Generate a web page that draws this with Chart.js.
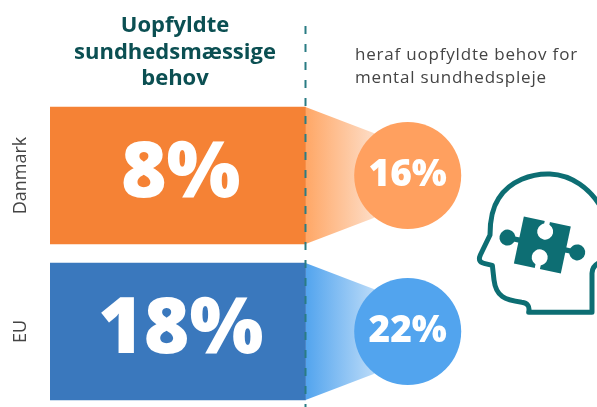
<!DOCTYPE html>
<html lang="da">
<head>
<meta charset="utf-8">
<title>Uopfyldte sundhedsmæssige behov</title>
<script src="https://cdn.jsdelivr.net/npm/chart.js@4"></script>
<style>
    html, body { margin: 0; padding: 0; background: #fff; overflow: hidden; height: 407px; }
    /* lidt højere end vinduet: nederste søjlerække skal have fuld afstand */
    #wrap { position: relative; width: 597px; height: 410px; }
</style>
</head>
<body>
<div id="wrap"><canvas id="behovChart"></canvas></div>
<script>
// Værdier
const categories = ['Danmark', 'EU'];
const unmetNeeds = [8, 18];      // uopfyldte sundhedsmæssige behov (%)
const mentalNeeds = [16, 22];    // heraf mental sundhedspleje (%)
// Søjlerne er lige lange i originalen, uanset værdien
const barLength = [1, 1];
const titleLines = ['Uopfyldte', 'sundhedsmæssige', 'behov'];
const noteLines = ['heraf uopfyldte behov for', 'mental sundhedspleje'];

const TEAL = '#0d6e73';
const FONT = '"Open Sans", "Noto Sans", sans-serif';
const barColors = ['#f58235', '#3a78bd'];
const circleColors = ['#ffa05f', '#52a4ee'];
const fadeStart = ['#ffa766', '#52a4ee'];
const fadeEnd = ['#fddcc5', '#b9daf8'];

// Tragten mellem søjle og cirkel
const funnelPlugin = {
    id: 'funnel',
    beforeDatasetsDraw(chart) {
        const ctx = chart.ctx;
        const bars = chart.getDatasetMeta(0).data;
        const circles = chart.getDatasetMeta(1).data;
        bars.forEach((bar, i) => {
            const c = circles[i];
            const h = bar.height / 2;
            const endX = c.x - 34;
            const grad = ctx.createLinearGradient(bar.x, 0, endX, 0);
            grad.addColorStop(0, fadeStart[i]);
            grad.addColorStop(1, fadeEnd[i]);
            ctx.save();
            ctx.fillStyle = grad;
            ctx.beginPath();
            ctx.moveTo(bar.x, bar.y - h);
            ctx.lineTo(endX, c.y - 42.5);
            ctx.lineTo(c.x, c.y);
            ctx.lineTo(endX, c.y + 42.5);
            ctx.lineTo(bar.x, bar.y + h);
            ctx.closePath();
            ctx.fill();
            ctx.restore();
        });
    }
};

// Hoved med puslespilsbrik
function drawHead(ctx) {
    ctx.save();
    ctx.translate(470, 160);
    ctx.scale(1 / 3, 1 / 3);
    ctx.strokeStyle = TEAL;
    ctx.fillStyle = TEAL;
    ctx.lineWidth = 15;
    ctx.lineJoin = 'round';
    ctx.lineCap = 'round';
    ctx.beginPath();
    ctx.moveTo(395, 305);
    ctx.quadraticCurveTo(366, 315, 366, 340);
    ctx.lineTo(366, 457);
    ctx.lineTo(176, 457);
    ctx.quadraticCurveTo(182, 430, 155, 427);
    ctx.bezierCurveTo(105, 420, 78, 410, 72, 360);
    ctx.lineTo(67, 316);
    ctx.lineTo(42, 310);
    ctx.quadraticCurveTo(22, 306, 31, 285);
    ctx.lineTo(60, 225);
    ctx.bezierCurveTo(60, 185, 66, 145, 86, 115);
    ctx.bezierCurveTo(120, 62, 185, 40, 240, 42);
    ctx.bezierCurveTo(305, 45, 360, 85, 395, 145);
    ctx.stroke();

    ctx.translate(217, 255);
    ctx.rotate(12 * Math.PI / 180);
    ctx.fillRect(-72, -72, 144, 144);
    [-1, 1].forEach(side => {
        ctx.fillRect(side > 0 ? 70 : -90, -8, 20, 16);
        ctx.beginPath();
        ctx.arc(side * 107, 0, 24, 0, Math.PI * 2);
        ctx.fill();
    });
    ctx.fillStyle = '#fff';
    [[-41, -76, 20], [38, 56, 20]].forEach(([cy, neckY, neckH]) => {
        ctx.beginPath();
        ctx.arc(0, cy, 24, 0, Math.PI * 2);
        ctx.fill();
        ctx.fillRect(-8, neckY, 16, neckH);
    });
    ctx.restore();
}

const overlayPlugin = {
    id: 'overlay',
    afterDatasetsDraw(chart) {
        const ctx = chart.ctx;
        const bars = chart.getDatasetMeta(0).data;
        const circles = chart.getDatasetMeta(1).data;
        ctx.save();

        // Stiplet linje ved søjlernes ende
        ctx.strokeStyle = '#2a7c84';
        ctx.lineWidth = 2;
        ctx.setLineDash([8, 10]);
        ctx.beginPath();
        ctx.moveTo(bars[0].x, 26);
        ctx.lineTo(bars[0].x, 407);
        ctx.stroke();
        ctx.setLineDash([]);

        // Værdier
        ctx.fillStyle = '#fff';
        ctx.textAlign = 'center';
        ctx.textBaseline = 'middle';
        bars.forEach((bar, i) => {
            ctx.font = '800 78px ' + FONT;
            ctx.fillText(unmetNeeds[i] + '%', (bar.base + bar.x) / 2 + 3, bar.y - 1);
            ctx.font = '800 37px ' + FONT;
            ctx.fillText(mentalNeeds[i] + '%', circles[i].x, circles[i].y);
        });

        // Overskrifter
        ctx.fillStyle = '#0b4f52';
        ctx.font = '700 22px ' + FONT;
        titleLines.forEach((line, i) => ctx.fillText(line, 175, 26 + i * 26.5));
        ctx.fillStyle = '#444';
        ctx.textAlign = 'left';
        ctx.font = '400 17px ' + FONT;
        ctx.letterSpacing = '0.8px';
        noteLines.forEach((line, i) => ctx.fillText(line, 355, 55 + i * 23));
        ctx.letterSpacing = '0px';

        drawHead(ctx);
        ctx.restore();
    }
};

new Chart(document.getElementById('behovChart'), {
    data: {
        labels: categories,
        datasets: [
            {
                type: 'bar',
                data: barLength,
                backgroundColor: barColors,
                barThickness: 137,
                order: 2
            },
            {
                type: 'bubble',
                data: categories.map(name => ({ x: 1.4, y: name, r: 53.5 })),
                backgroundColor: circleColors,
                borderWidth: 0,
                order: 1
            }
        ]
    },
    options: {
        indexAxis: 'y',
        responsive: true,
        maintainAspectRatio: false,
        animation: false,
        layout: { autoPadding: false, padding: { top: 97.5, bottom: 0.5, left: 0, right: 0 } },
        events: [],
        plugins: {
            legend: { display: false },
            tooltip: { enabled: false }
        },
        scales: {
            x: { type: 'linear', display: false, min: 0, max: 547 / 255.5 },
            y: {
                type: 'category',
                labels: categories,
                grid: { display: false, drawTicks: false },
                border: { display: false },
                afterFit(scale) {
                    scale.width = 50;
                    scale.paddingTop = 0;
                    scale.paddingBottom = 0;
                },
                ticks: {
                    minRotation: 90,
                    maxRotation: 90,
                    crossAlign: 'center',
                    padding: -10,
                    color: '#444',
                    font: { family: FONT, size: 18 }
                }
            }
        }
    },
    plugins: [funnelPlugin, overlayPlugin]
});
</script>
</body>
</html>
